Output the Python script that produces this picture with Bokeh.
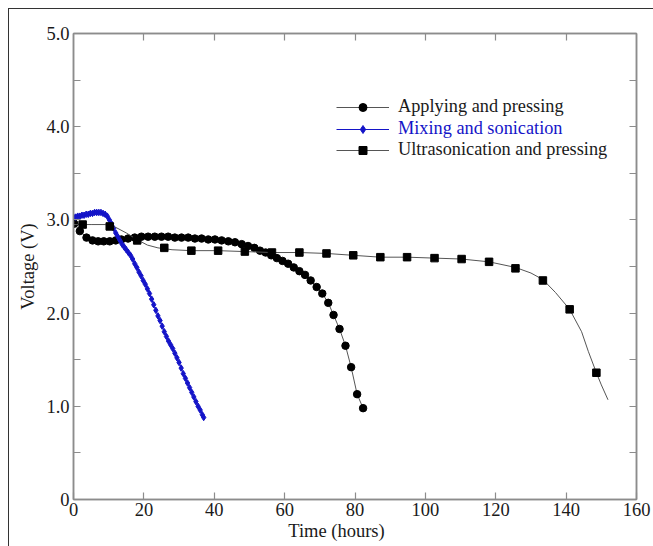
from bokeh.plotting import figure
from bokeh.models import Range1d, LinearAxis, FixedTicker, Legend, LegendItem
from bokeh.embed import file_html
from bokeh.resources import INLINE

# ---- data ----
applying_x = [0.2, 1.8, 3.7, 5.4, 7.0, 8.6, 10.3, 12.0, 13.6, 15.5, 17.4, 19.3, 21.2, 23.1,
              25.0, 26.9, 28.8, 30.7, 32.6, 34.5, 36.4, 38.3, 40.2, 42.1, 44.0, 45.9, 47.8,
              49.6, 51.4, 53.0, 54.6, 56.2, 57.8, 59.4, 61.0, 62.6, 64.2, 65.8, 67.4, 69.1,
              70.7, 72.4, 73.9, 75.6, 77.3, 78.9, 80.6, 82.3]
applying_y = [2.96, 2.88, 2.81, 2.78, 2.77, 2.77, 2.77, 2.78, 2.79, 2.80, 2.81, 2.82, 2.82, 2.82,
              2.82, 2.82, 2.81, 2.81, 2.81, 2.80, 2.80, 2.79, 2.79, 2.78, 2.77, 2.76, 2.74,
              2.72, 2.70, 2.67, 2.65, 2.62, 2.59, 2.56, 2.53, 2.49, 2.45, 2.41, 2.35, 2.28,
              2.21, 2.11, 1.98, 1.83, 1.65, 1.42, 1.13, 0.98]

mixing_x = [0.0, 0.6, 1.2, 1.8, 2.4, 3.0, 3.6, 4.2, 4.8, 5.4, 6.0, 6.6, 7.2, 7.8, 8.4, 9.0,
            9.6, 10.2, 10.8, 11.4, 12.0, 12.6, 13.2, 13.8, 14.4, 15.0, 15.6, 16.2, 16.8, 17.4,
            18.0, 18.6, 19.2, 19.8, 20.4, 21.0, 21.6, 22.2, 22.8, 23.4, 24.0, 24.6, 25.2, 25.8,
            26.4, 27.0, 27.6, 28.2, 28.8, 29.4, 30.0, 30.6, 31.2, 31.8, 32.4, 33.0, 33.6, 34.2,
            34.8, 35.4, 36.0, 36.6, 37.0]
mixing_y = [3.03, 3.03, 3.04, 3.04, 3.05, 3.05, 3.06, 3.06, 3.07, 3.07, 3.08, 3.08, 3.08, 3.08,
            3.07, 3.06, 3.04, 3.00, 2.96, 2.91, 2.86, 2.82, 2.78, 2.74, 2.71, 2.68, 2.65, 2.62,
            2.58, 2.53, 2.49, 2.44, 2.40, 2.35, 2.31, 2.26, 2.21, 2.15, 2.09, 2.03, 1.97, 1.92,
            1.86, 1.80, 1.75, 1.70, 1.66, 1.62, 1.57, 1.52, 1.47, 1.41, 1.35, 1.30, 1.25, 1.20,
            1.15, 1.10, 1.05, 1.00, 0.96, 0.91, 0.88]

ultra_x = [2.6, 10.3, 18.1, 25.8, 33.5, 41.1, 48.7, 56.4, 64.2, 71.9, 79.5, 87.2, 94.8,
           102.6, 110.3, 118.1, 125.6, 133.4, 141.0, 148.6]
ultra_y = [2.95, 2.93, 2.78, 2.70, 2.67, 2.67, 2.66, 2.65, 2.65, 2.64, 2.62, 2.60, 2.60,
           2.59, 2.58, 2.55, 2.48, 2.35, 2.04, 1.36]

# smooth fitted curve drawn through the square series
ultra_fit_x = [0, 5, 9, 12, 15, 18, 21, 24, 28, 33.5, 41.1, 48.7, 56.4, 64.2, 71.9, 79.5,
               87.2, 94.8, 102.6, 110.3, 118.1, 125.6, 130, 133.4, 137, 141.0, 144.4, 146.3,
               148.6, 150, 151.9]
ultra_fit_y = [2.95, 2.95, 2.95, 2.92, 2.86, 2.79, 2.73, 2.70, 2.68, 2.67, 2.67, 2.66, 2.65,
               2.65, 2.64, 2.62, 2.60, 2.60, 2.59, 2.58, 2.55, 2.49, 2.43, 2.36, 2.22, 2.04,
               1.80, 1.59, 1.36, 1.23, 1.07]

x_ticks = [0, 20, 40, 60, 80, 100, 120, 140, 160]
y_ticks = [0, 1.0, 2.0, 3.0, 4.0, 5.0]
y_minor_ticks = [0.5, 1.5, 2.5, 3.5, 4.5]
y_tick_labels = {0: "0", 1.0: "1.0", 2.0: "2.0", 3.0: "3.0", 4.0: "4.0", 5.0: "5.0"}

x_title = "Time (hours)"
y_title = "Voltage (V)"
labels = ["Applying and pressing", "Mixing and sonication", "Ultrasonication and pressing"]

# ---- styling ----
FONT = "Liberation Serif"
AXIS_GRAY = "#8c8c8c"
TEXT = "#1a1a1a"
BLUE = "#1414c8"

p = figure(width=645, height=538, output_backend="svg", toolbar_location=None,
           x_range=Range1d(0, 160), y_range=Range1d(0, 5),
           min_border_left=64, min_border_right=18, min_border_top=24, min_border_bottom=48)
p.styles = {"margin-left": "8px", "margin-top": "8px",
            "border-top": "1.5px solid #333", "border-left": "1.5px solid #333"}
p.grid.visible = False
p.outline_line_color = AXIS_GRAY
p.outline_line_width = 1.5
p.background_fill_color = "white"
p.border_fill_color = "white"

def style_axis(ax, ticks, minor=None):
    ax.ticker = FixedTicker(ticks=ticks, minor_ticks=minor or [])
    ax.major_tick_in = 7
    ax.major_tick_out = 0
    ax.minor_tick_in = 7
    ax.minor_tick_out = 0
    ax.axis_line_color = AXIS_GRAY
    ax.axis_line_width = 1.5
    ax.major_tick_line_color = AXIS_GRAY
    ax.major_tick_line_width = 1.2
    ax.minor_tick_line_color = AXIS_GRAY
    ax.minor_tick_line_width = 1.2
    ax.major_label_text_font = FONT
    ax.major_label_text_font_size = "18.5px"
    ax.major_label_text_color = TEXT
    ax.axis_label_text_font = FONT
    ax.axis_label_text_font_size = "18.5px"
    ax.axis_label_text_font_style = "normal"
    ax.axis_label_text_color = TEXT

xa = p.xaxis[0]
style_axis(xa, x_ticks)
# trailing no-break spaces shift the centred title left, as in the reference
xa.axis_label = x_title + "\u00a0" * 8
xa.major_label_standoff = 3
xa.axis_label_standoff = 2

ya = p.yaxis[0]
style_axis(ya, y_ticks, y_minor_ticks)
ya.major_label_overrides = y_tick_labels
ya.axis_label = y_title
ya.major_label_standoff = 4
ya.axis_label_standoff = 5

# top and right axes: inward ticks only, no labels (ticks given as minor ticks)
top = LinearAxis()
style_axis(top, [], x_ticks[1:-1])
top.major_label_standoff = 0
p.add_layout(top, "above")

right = LinearAxis()
style_axis(right, [], y_minor_ticks + y_ticks[1:-1])
right.major_label_standoff = 0
p.add_layout(right, "right")

# ---- series ----
l_app = p.line(applying_x, applying_y, line_color="#555555", line_width=1)
s_app = p.scatter(applying_x, applying_y, marker="circle", size=7.5, color="black")

l_mix = p.line(mixing_x, mixing_y, line_color=BLUE, line_width=1)
s_mix = p.scatter(mixing_x, mixing_y, marker="diamond", size=6.5, color=BLUE)

l_ult = p.line(ultra_fit_x, ultra_fit_y, line_color="#555555", line_width=1)
s_ult = p.scatter(ultra_x, ultra_y, marker="square", size=7.5, color="black")

# ---- legends (one per entry so each label keeps its own colour) ----
entries = [(labels[0], [l_app, s_app], TEXT, 382),
           (labels[1], [l_mix, s_mix], BLUE, 360),
           (labels[2], [l_ult, s_ult], TEXT, 339)]
for lab, rends, col, ypos in entries:
    lg = Legend(items=[LegendItem(label=lab, renderers=rends)], location=(263, ypos))
    lg.label_text_font = FONT
    lg.label_text_font_size = "18.3px"
    lg.label_text_color = col
    lg.background_fill_alpha = 0
    lg.border_line_color = None
    lg.padding = 0
    lg.margin = 0
    lg.spacing = 0
    lg.glyph_width = 53
    lg.glyph_height = 20
    lg.label_height = 20
    lg.label_standoff = 9
    p.add_layout(lg, "center")

open("out.html", "w").write(file_html(p, INLINE))
